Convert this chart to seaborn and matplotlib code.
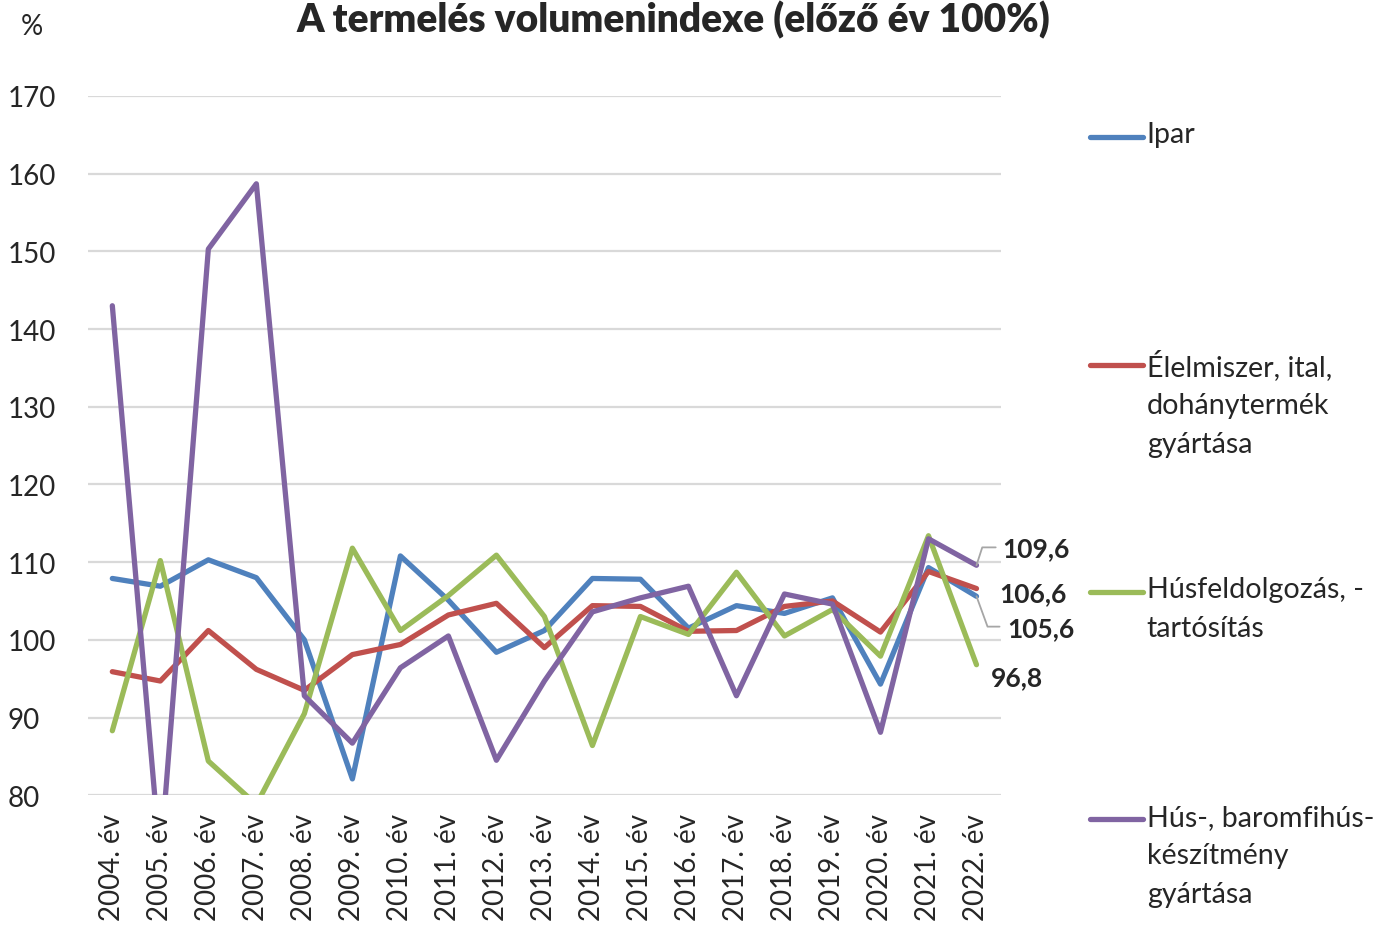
import numpy as np
import pandas as pd
import matplotlib
matplotlib.use('Agg')
import matplotlib.pyplot as plt
import seaborn as sns
from matplotlib.lines import Line2D

years = [f"{y}. év" for y in range(2004, 2023)]

ipar = [107.9, 106.9, 110.3, 108.0, 100.0, 82.1, 110.8, 105.1, 98.4, 101.2,
        107.9, 107.8, 101.5, 104.4, 103.4, 105.4, 94.3, 109.3, 105.6]
elelmiszer = [95.9, 94.7, 101.2, 96.2, 93.5, 98.1, 99.4, 103.2, 104.7, 99.0,
              104.4, 104.3, 101.1, 101.2, 104.3, 105.0, 101.0, 108.8, 106.6]
husfeld = [88.3, 110.2, 84.4, 78.8, 90.5, 111.8, 101.2, 105.7, 110.9, 103.0,
           86.4, 103.0, 100.7, 108.7, 100.5, 103.9, 97.9, 113.4, 96.8]
huskesz = [143.0, 71.6, 150.3, 158.7, 92.8, 86.7, 96.4, 100.5, 84.5, 94.7,
           103.6, 105.4, 106.9, 92.8, 105.9, 104.6, 88.1, 113.0, 109.6]

names = ["Ipar", "Élelmiszer, ital,\ndohánytermék\ngyártása",
         "Húsfeldolgozás, -\ntartósítás", "Hús-, baromfihús-\nkészítmény\ngyártása"]
colors = ["#4F81BD", "#C0504D", "#9BBB59", "#8064A2"]
series = [ipar, elelmiszer, husfeld, huskesz]

rows = []
for name, vals in zip(names, series):
    for i, v in enumerate(vals):
        rows.append({"ev": i, "ertek": v, "sor": name})
df = pd.DataFrame(rows)

sns.set_theme(style="white")
plt.rcParams['font.family'] = ['Lato', 'DejaVu Sans']

fig = plt.figure(figsize=(13.8, 9.28), dpi=100)
ax = fig.add_axes([0.064, 0.142, 0.661, 0.7535])

sns.lineplot(data=df, x="ev", y="ertek", hue="sor", palette=colors,
             linewidth=3.8, ax=ax, legend=False, sort=False)

ax.set_xlim(-0.5, 18.5)
ax.set_ylim(80, 170)
ax.set_yticks(range(80, 171, 10))
ax.set_xticks(range(len(years)))
ax.set_xticklabels(years, rotation=90, fontsize=20)
ax.tick_params(axis='y', labelsize=20, length=0)
ax.tick_params(axis='x', length=0, pad=13)
for lbl in ax.get_yticklabels():
    lbl.set_horizontalalignment('left')
ax.yaxis.set_tick_params(pad=58)
ax.grid(axis='y', color='#D9D9D9', linewidth=1.6)
ax.set_axisbelow(True)
for s in ax.spines.values():
    s.set_visible(False)
ax.set_xlabel("")
ax.set_ylabel("")

# data labels on last point
last = len(years) - 1
lab_off = [(31, -32), (23, -5), (14, -12), (26, 17)]
for vals, off in zip(series, lab_off):
    v = vals[-1]
    ax.annotate(f"{v:.1f}".replace(".", ","), xy=(last, v), xytext=off,
                textcoords='offset pixels', fontsize=19, fontweight='bold',
                ha='left', va='center', annotation_clip=False)

# leader lines
ax.plot([last, last + 0.12, last + 0.40], [huskesz[-1], huskesz[-1] + 2.3, huskesz[-1] + 2.3],
        color='#A6A6A6', linewidth=1.3, clip_on=False)
ax.plot([last, last + 0.23, last + 0.48], [ipar[-1], ipar[-1] - 3.9, ipar[-1] - 3.9],
        color='#A6A6A6', linewidth=1.3, clip_on=False)

# legend drawn on the right
leg_y = [0.851, 0.606, 0.361, 0.116]
for name, c, y in zip(names, colors, leg_y):
    fig.add_artist(Line2D([0.790, 0.828], [y, y], color=c, linewidth=3.8,
                          transform=fig.transFigure))
    fig.text(0.831, y + 0.017, name, fontsize=20.6, va='top', ha='left',
             linespacing=1.6)

fig.text(0.488, 0.999, "A termelés volumenindexe (előző év 100%)", fontsize=28,
         fontweight='heavy', ha='center', va='top')
fig.text(0.023, 0.971, "%", fontsize=20, ha='center', va='center')

fig.savefig("out.png", dpi=100)
